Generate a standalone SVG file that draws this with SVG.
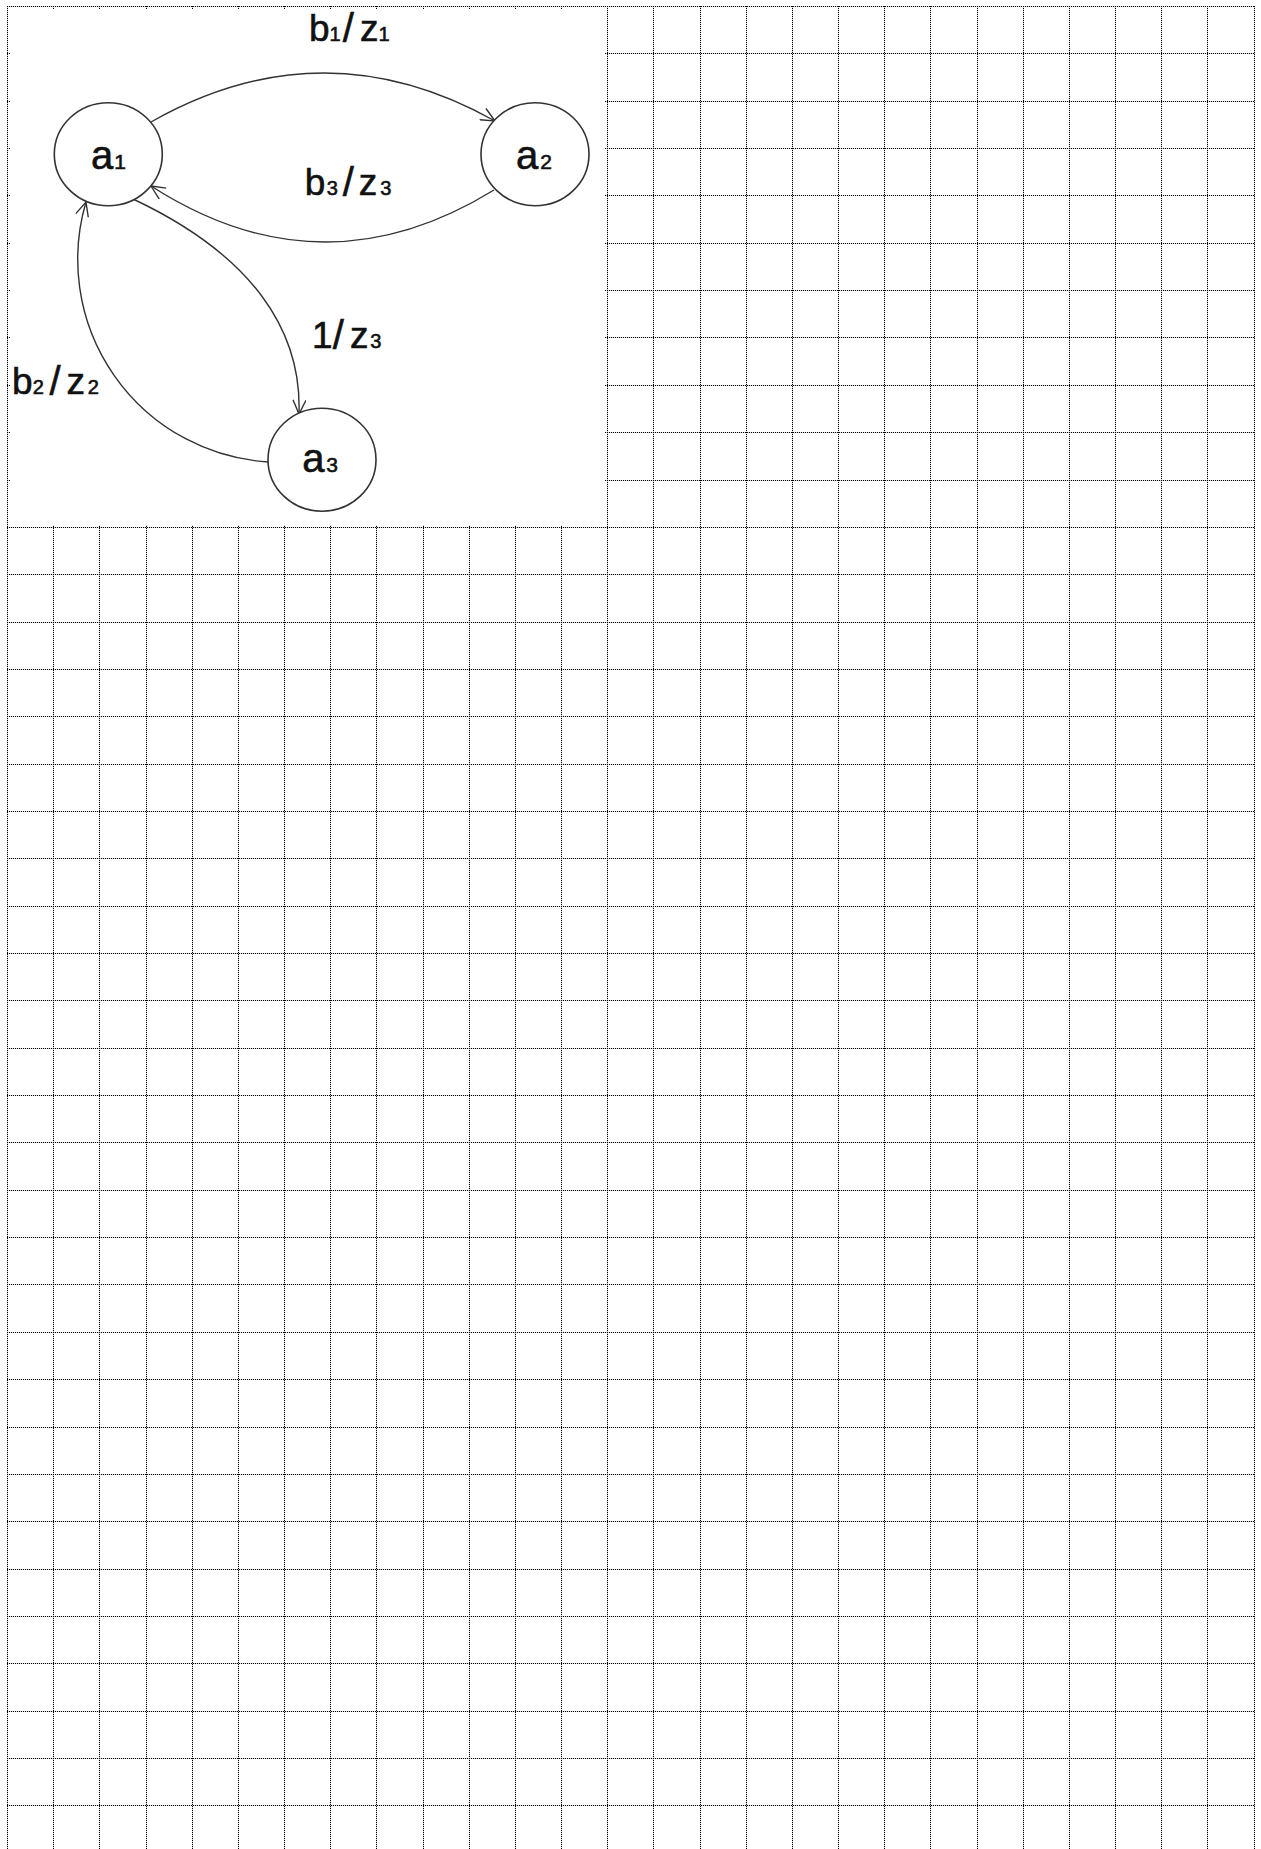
<svg xmlns="http://www.w3.org/2000/svg" width="1261" height="1849" viewBox="0 0 1261 1849">
  <style>
    .grid { fill: none; stroke: #000; stroke-width: 1; stroke-dasharray: 1.2 0.8; }
    .edge { fill: none; stroke: #333; stroke-width: 1.4; }
    .node { fill: #fff; stroke: #333; stroke-width: 1.6; }
    .lbl { font-family: "Liberation Sans", Arial, sans-serif; fill: #111; stroke: #111; stroke-width: 0.6; text-anchor: middle; }
    .nm { font-size: 40px; }
    .ns { font-size: 21px; }
    .em { font-size: 37px; }
    .sl { font-size: 40px; }
    .es { font-size: 20px; }
  </style>
  <defs>
    <marker id="arrow" viewBox="0 0 16 14" refX="15" refY="7" markerWidth="16" markerHeight="14" markerUnits="userSpaceOnUse" orient="auto">
      <path d="M1,0.5 L15,7 L1,13.5" fill="none" stroke="#333" stroke-width="1.4"/>
    </marker>
  </defs>
  <rect x="0" y="0" width="1261" height="1849" fill="#fff"/>
  <g id="grid">
    <path class="grid" d="M7.5,6V1849 M53.5,6V1849 M99.5,6V1849 M146.5,6V1849 M192.5,6V1849 M238.5,6V1849 M284.5,6V1849 M330.5,6V1849 M376.5,6V1849 M423.5,6V1849 M469.5,6V1849 M515.5,6V1849 M561.5,6V1849 M607.5,6V1849 M653.5,6V1849 M700.5,6V1849 M746.5,6V1849 M792.5,6V1849 M838.5,6V1849 M884.5,6V1849 M930.5,6V1849 M977.5,6V1849 M1023.5,6V1849 M1069.5,6V1849 M1115.5,6V1849 M1161.5,6V1849 M1207.5,6V1849 M1254.5,6V1849"/>
    <path class="grid" d="M7,6.5H1255 M7,53.5H1255 M7,101.5H1255 M7,148.5H1255 M7,195.5H1255 M7,243.5H1255 M7,290.5H1255 M7,337.5H1255 M7,385.5H1255 M7,432.5H1255 M7,480.5H1255 M7,527.5H1255 M7,574.5H1255 M7,622.5H1255 M7,669.5H1255 M7,716.5H1255 M7,764.5H1255 M7,811.5H1255 M7,858.5H1255 M7,906.5H1255 M7,953.5H1255 M7,1000.5H1255 M7,1048.5H1255 M7,1095.5H1255 M7,1142.5H1255 M7,1190.5H1255 M7,1237.5H1255 M7,1284.5H1255 M7,1332.5H1255 M7,1379.5H1255 M7,1427.5H1255 M7,1474.5H1255 M7,1521.5H1255 M7,1569.5H1255 M7,1616.5H1255 M7,1663.5H1255 M7,1711.5H1255 M7,1758.5H1255 M7,1805.5H1255"/>
    <rect x="10" y="9" width="595" height="516" fill="#fff"/>
  </g>
  <g id="connectors">
    <path id="e-a1-a2" class="edge" d="M151,122 Q323,24.5 495,121" marker-end="url(#arrow)"/>
    <path id="e-a2-a1" class="edge" d="M494,190 Q322,296 151,186" marker-end="url(#arrow)"/>
    <path id="e-a1-a3" class="edge" d="M133,199 C252,255 302,330 299,414" marker-end="url(#arrow)"/>
    <path id="e-a3-a1" class="edge" d="M268,462 A203,203 0 0 1 86,202" marker-end="url(#arrow)"/>
    <text class="lbl"><tspan class="em" x="319.3" y="40.7">b</tspan><tspan class="es" x="335" y="40.7">1</tspan><tspan class="sl" x="348.3" y="41.5">/</tspan><tspan class="em" x="369.2" y="40.7">z</tspan><tspan class="es" x="384" y="40.7">1</tspan></text>
    <text class="lbl"><tspan class="em" x="315" y="195">b</tspan><tspan class="es" x="332.3" y="195">3</tspan><tspan class="sl" x="348.3" y="195.8">/</tspan><tspan class="em" x="368" y="195">z</tspan><tspan class="es" x="385.8" y="195">3</tspan></text>
    <text class="lbl"><tspan class="em" x="322.2" y="348.3">1</tspan><tspan class="sl" x="338.3" y="349.1">/</tspan><tspan class="em" x="359.2" y="348.3">z</tspan><tspan class="es" x="375.7" y="348.3">3</tspan></text>
    <text class="lbl"><tspan class="em" x="22.2" y="394">b</tspan><tspan class="es" x="38.3" y="394">2</tspan><tspan class="sl" x="55" y="394.8">/</tspan><tspan class="em" x="75.8" y="394">z</tspan><tspan class="es" x="93.2" y="394">2</tspan></text>
  </g>
  <g id="a1">
    <ellipse class="node" cx="108.3" cy="154.2" rx="54" ry="51.5"/>
    <text class="lbl"><tspan class="nm" x="102.2" y="169">a</tspan><tspan class="ns" x="120" y="169">1</tspan></text>
  </g>
  <g id="a2">
    <ellipse class="node" cx="535" cy="154.2" rx="54" ry="51.5"/>
    <text class="lbl"><tspan class="nm" x="527" y="169">a</tspan><tspan class="ns" x="546" y="169">2</tspan></text>
  </g>
  <g id="a3">
    <ellipse class="node" cx="322" cy="459.7" rx="54" ry="51.5"/>
    <text class="lbl"><tspan class="nm" x="313.3" y="472.3">a</tspan><tspan class="ns" x="332.2" y="472.3">3</tspan></text>
  </g>
</svg>
